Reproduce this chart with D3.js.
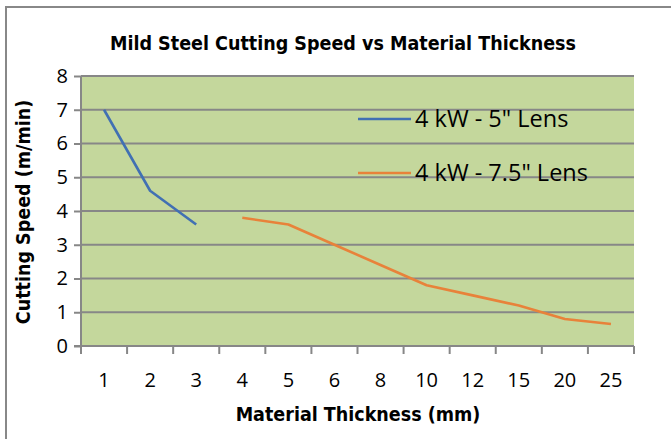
<!DOCTYPE html>
<html><head><meta charset="utf-8">
<script src="https://cdn.jsdelivr.net/npm/d3@7"></script>
<style>body{margin:0;background:#fff}svg{display:block}text{font-family:"Open Sans",sans-serif;fill:#000}
.bt{font-family:"DejaVu Sans Condensed","DejaVu Sans",sans-serif;font-weight:bold;font-size:19.5px}</style>
</head><body><svg id="c" width="671" height="439"></svg>
<script>
const categories = ["1","2","3","4","5","6","8","10","12","15","20","25"];
const series5 = [7.0, 4.6, 3.6, null, null, null, null, null, null, null, null, null];
const series75 = [null, null, null, 3.8, 3.6, 3.0, 2.4, 1.8, 1.5, 1.2, 0.8, 0.65];
const yTicks = [0,1,2,3,4,5,6,7,8];
const seriesNames = ["4 kW - 5\" Lens", "4 kW - 7.5\" Lens"];
const colors = ["#4170B3", "#E8823A"];

const svg = d3.select("#c");
const m = {l:81, r:634, t:76, b:346};
// outer border
svg.append("rect").attr("x",6).attr("y",7).attr("width",700).attr("height",500)
  .attr("fill","none").attr("stroke","#888").attr("stroke-width",2);

const x = d3.scaleBand().domain(categories).range([m.l, m.r]).padding(0);
const y = d3.scaleLinear().domain([0,8]).range([m.b, m.t]);

svg.append("rect").attr("x",m.l).attr("y",m.t).attr("width",m.r-m.l).attr("height",m.b-m.t).attr("fill","#C4D79C");

// grid
svg.append("g").selectAll("line").data(yTicks.filter(d=>d>0)).join("line")
  .attr("x1",m.l).attr("x2",m.r).attr("y1",d=>y(d)).attr("y2",d=>y(d))
  .attr("stroke","#878787").attr("stroke-width",2);

// y axis
const ya = svg.append("g").attr("transform",`translate(${m.l},0)`)
  .call(d3.axisLeft(y).tickValues(yTicks).tickSize(7).tickPadding(6));
ya.selectAll("path,line").attr("stroke","#878787").attr("stroke-width",2);
ya.select(".domain").attr("d",`M0,${m.t}V${m.b}`);
ya.selectAll("text").style("font-size","20px").attr("fill","#000").style("font-family","'Open Sans',sans-serif");

// x axis
const xa = svg.append("g").attr("transform",`translate(0,${m.b})`)
  .call(d3.axisBottom(x).tickSize(0).tickPadding(27));
xa.select(".domain").attr("d",`M${m.l-7},0H${m.r}`).attr("stroke","#878787").attr("stroke-width",2);
xa.selectAll("text").style("font-size","20px").attr("fill","#000").style("font-family","'Open Sans',sans-serif");
const bounds = categories.map(c=>x(c)).concat([m.r]);
svg.append("g").selectAll("line").data(bounds).join("line")
  .attr("x1",d=>d).attr("x2",d=>d).attr("y1",m.b).attr("y2",m.b+8)
  .attr("stroke","#878787").attr("stroke-width",2);

// lines
const line = d3.line().defined(d=>d.v!=null).x(d=>x(d.c)+x.bandwidth()/2).y(d=>y(d.v));
[series5, series75].forEach((s,i)=>{
  svg.append("path").datum(categories.map((c,j)=>({c, v:s[j]})))
    .attr("d",line).attr("fill","none").attr("stroke",colors[i]).attr("stroke-width",2.6)
    .attr("stroke-linejoin","round");
});

// legend
const ly = [119, 173];
seriesNames.forEach((n,i)=>{
  svg.append("line").attr("x1",358).attr("x2",411).attr("y1",ly[i]).attr("y2",ly[i])
    .attr("stroke",colors[i]).attr("stroke-width",2.6);
  svg.append("text").attr("x",415).attr("y",ly[i]+8).style("font-size","23.5px").text(n);
});

// titles
svg.append("text").attr("class","bt").attr("x",343).attr("y",50).attr("text-anchor","middle")
  .text("Mild Steel Cutting Speed vs Material Thickness");
svg.append("text").attr("class","bt").attr("x",358).attr("y",421).attr("text-anchor","middle")
  .text("Material Thickness (mm)");
svg.append("text").attr("class","bt").attr("transform","translate(30,212) rotate(-90)").attr("text-anchor","middle")
  .text("Cutting Speed (m/min)");
</script></body></html>
